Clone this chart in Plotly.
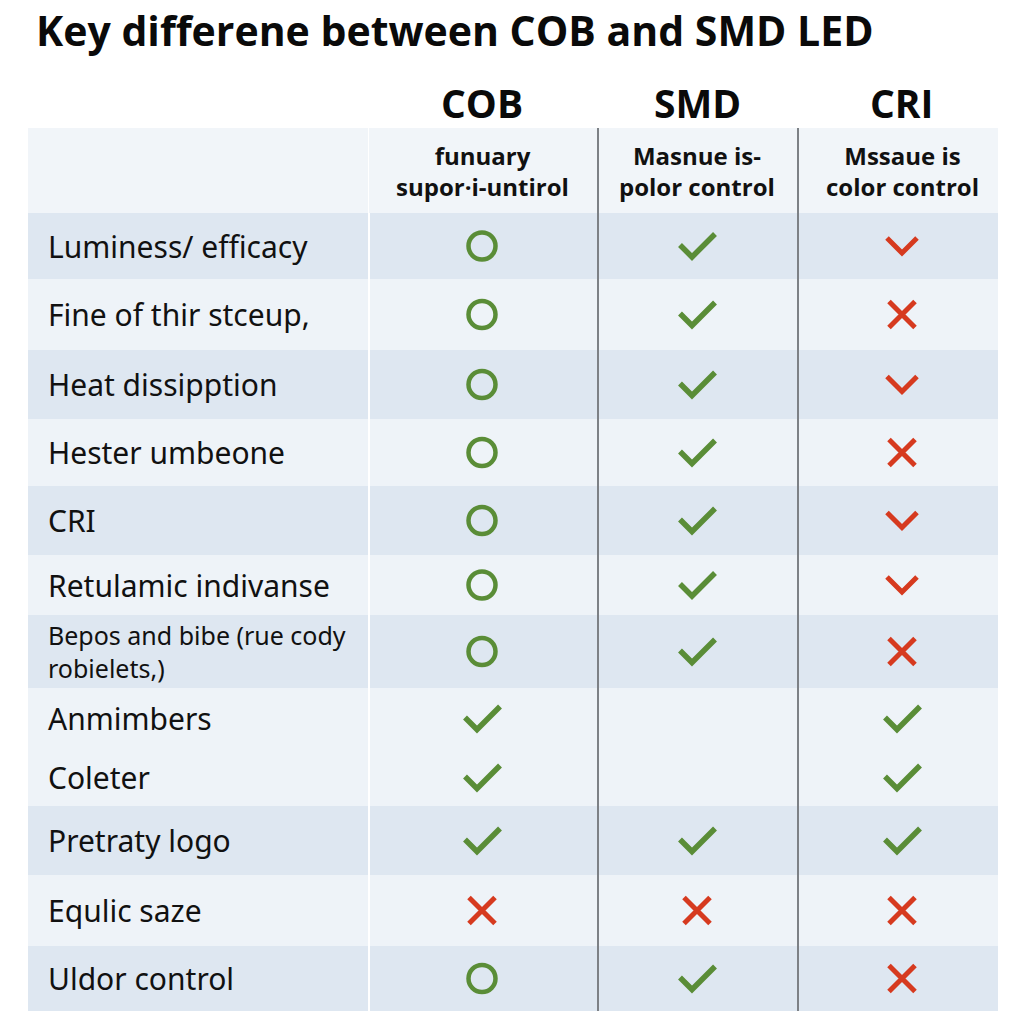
import plotly.graph_objects as go

# ---------------- data ----------------
title_text = "Key differene between COB and SMD LED"
columns = ["COB", "SMD", "CRI"]
subheaders = ["funuary<br>supor·i-untirol", "Masnue is-<br>polor control", "Mssaue is<br>color control"]
features = [
    "Luminess/ efficacy",
    "Fine of thir stceup,",
    "Heat dissipption",
    "Hester umbeone",
    "CRI",
    "Retulamic indivanse",
    "Bepos and bibe (rue cody<br>robielets,)",
    "Anmimbers",
    "Coleter",
    "Pretraty logo",
    "Equlic saze",
    "Uldor control",
]
# status codes: "o" circle, "check", "v" red chevron, "x" red cross, "" empty
cob = ["o", "o", "o", "o", "o", "o", "o", "check", "check", "check", "x", "o"]
smd = ["check", "check", "check", "check", "check", "check", "check", "", "", "check", "x", "check"]
cri = ["v", "x", "v", "x", "v", "v", "x", "check", "check", "check", "x", "x"]
shaded = [1, 0, 1, 0, 1, 0, 1, 0, 0, 1, 0, 1]

# ---------------- layout constants ----------------
row_bounds = [213, 279, 350, 419, 486, 555, 615, 688, 749, 806, 875, 946, 1011]
header_top = 128
col_bounds = [28, 368, 598, 798, 998]
col_centers = [482, 697, 902]
label_x = 46
GREEN = "#5a8d37"
RED = "#d63a1f"
SHADE = "#dee7f1"
LIGHT = "#eef3f8"
HEADER_BG = "#f1f5f9"

row_centers = [(row_bounds[i] + row_bounds[i + 1]) / 2 for i in range(len(features))]

fig = go.Figure()
shapes = []

# header background
for c in range(4):
    x0 = col_bounds[c] + (1 if c == 1 else 0)
    shapes.append(dict(type="rect", xref="x", yref="y", x0=x0, x1=col_bounds[c + 1],
                       y0=header_top, y1=row_bounds[0], fillcolor=HEADER_BG,
                       line=dict(width=0), layer="below"))
# row backgrounds
for i in range(len(features)):
    col = SHADE if shaded[i] else LIGHT
    for c in range(4):
        x0 = col_bounds[c] + (2 if c == 1 else 0)
        shapes.append(dict(type="rect", xref="x", yref="y", x0=x0, x1=col_bounds[c + 1],
                           y0=row_bounds[i], y1=row_bounds[i + 1], fillcolor=col,
                           line=dict(width=0), layer="below"))
# vertical separators
for xb in col_bounds[2:4]:
    shapes.append(dict(type="line", xref="x", yref="y", x0=xb, x1=xb,
                       y0=header_top, y1=row_bounds[-1],
                       line=dict(color="#7d8186", width=2), layer="below"))

# ---------------- icons ----------------
CHECK = [(-17, -1), (-5, 11), (18, -12)]
CHEV = [(-15, -8), (0, 7), (15, -8)]

def path_xy(items, template):
    xs, ys = [], []
    for cx, cy in items:
        for dx, dy in template:
            xs.append(cx + dx)
            ys.append(cy + dy)
        xs.append(None)
        ys.append(None)
    return xs, ys

circles, checks, chevs, crosses = [], [], [], []
for ci, series in enumerate([cob, smd, cri]):
    for ri, s in enumerate(series):
        pt = (col_centers[ci], row_centers[ri])
        if s == "o":
            circles.append(pt)
        elif s == "check":
            checks.append(pt)
        elif s == "v":
            chevs.append(pt)
        elif s == "x":
            crosses.append(pt)

fig.add_trace(go.Scatter(x=[p[0] for p in circles], y=[p[1] for p in circles], mode="markers",
                         marker=dict(symbol="circle-open", size=27, color=GREEN,
                                     line=dict(width=4.5, color=GREEN)),
                         hoverinfo="skip"))
fig.add_trace(go.Scatter(x=[p[0] for p in crosses], y=[p[1] for p in crosses], mode="markers",
                         marker=dict(symbol="x-thin-open", size=26, color=RED,
                                     line=dict(width=5, color=RED)),
                         hoverinfo="skip"))
cx, cy = path_xy(checks, CHECK)
fig.add_trace(go.Scatter(x=cx, y=cy, mode="lines", line=dict(color=GREEN, width=5.5),
                         hoverinfo="skip"))
vx, vy = path_xy(chevs, CHEV)
fig.add_trace(go.Scatter(x=vx, y=vy, mode="lines", line=dict(color=RED, width=5),
                         hoverinfo="skip"))

# ---------------- texts ----------------
annotations = []
annotations.append(dict(x=34, y=30, xref="x", yref="y", text="<b>" + title_text + "</b>",
                        showarrow=False, xanchor="left", yanchor="middle",
                        font=dict(family="Open Sans", size=41, color="#0a0a0a")))
for i, c in enumerate(columns):
    annotations.append(dict(x=col_centers[i], y=102, xref="x", yref="y", text="<b>" + c + "</b>",
                            showarrow=False, xanchor="center", yanchor="middle",
                            font=dict(family="Open Sans", size=39, color="#0a0a0a")))
    annotations.append(dict(x=col_centers[i], y=171, xref="x", yref="y",
                            text="<b>" + subheaders[i] + "</b>",
                            showarrow=False, xanchor="center", yanchor="middle", align="center",
                            font=dict(family="Open Sans", size=24, color="#111111")))
for i, f in enumerate(features):
    two = "<br>" in f
    annotations.append(dict(x=label_x, y=row_centers[i], xref="x", yref="y", text=f,
                            showarrow=False, xanchor="left", yanchor="middle", align="left",
                            font=dict(family="Noto Sans", size=25 if two else 30, color="#111111")))

fig.update_layout(
    width=1024, height=1024,
    margin=dict(l=0, r=0, t=0, b=0),
    paper_bgcolor="white", plot_bgcolor="white",
    showlegend=False,
    shapes=shapes,
    annotations=annotations,
    xaxis=dict(range=[0, 1024], visible=False, fixedrange=True),
    yaxis=dict(range=[1024, 0], visible=False, fixedrange=True),
)
fig.write_html("out.html", config={"displayModeBar": False},
               post_script="document.body.style.margin='0px';")
